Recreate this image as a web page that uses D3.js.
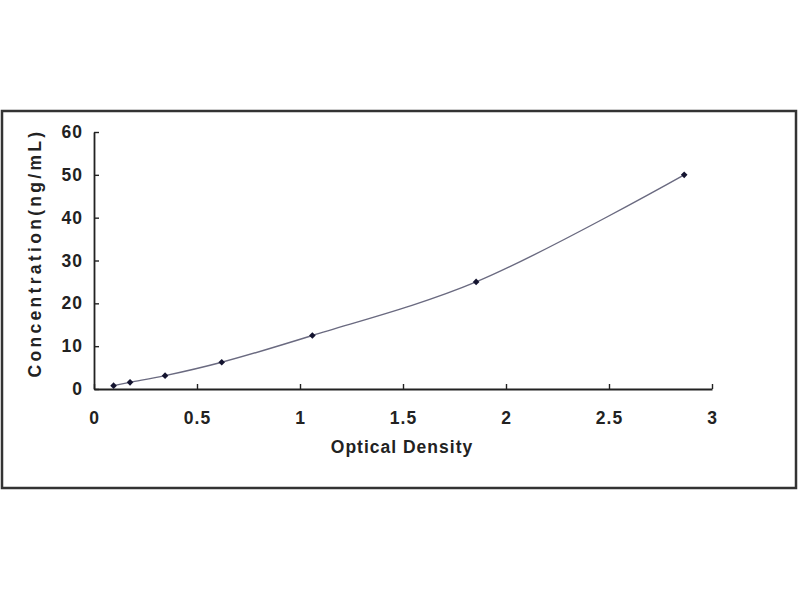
<!DOCTYPE html>
<html>
<head>
<meta charset="utf-8">
<script src="https://cdn.jsdelivr.net/npm/d3@7"></script>
<style>
  body { margin: 0; background: #fff; }
  svg { display: block; }
  text { font-family: "Liberation Sans", Arial, sans-serif; font-weight: bold; fill: #222; }
</style>
</head>
<body>
<svg id="chart" width="800" height="600"></svg>
<script>
// standard curve points
const od = [0.095, 0.175, 0.345, 0.62, 1.06, 1.855, 2.865];
const conc = [0.78, 1.56, 3.12, 6.25, 12.5, 25, 50];
const xTicks = [0, 0.5, 1, 1.5, 2, 2.5, 3];
const yTicks = [0, 10, 20, 30, 40, 50, 60];

const points = od.map((v, i) => ({ x: v, y: conc[i] }));

const svg = d3.select('#chart');

// outer frame
svg.append('rect')
  .attr('x', 2).attr('y', 111)
  .attr('width', 794).attr('height', 377)
  .attr('fill', 'none')
  .attr('stroke', '#333')
  .attr('stroke-width', 2.5);

const x = d3.scaleLinear().domain([0, 3]).range([94, 712]);
const y = d3.scaleLinear().domain([0, 60]).range([389, 132]);

const xAxis = svg.append('g')
  .attr('transform', 'translate(0,389)')
  .call(d3.axisBottom(x).tickValues(xTicks).tickFormat(d3.format('')).tickSize(-5).tickSizeOuter(0).tickPadding(23));

const yAxis = svg.append('g')
  .attr('transform', 'translate(94,0)')
  .call(d3.axisLeft(y).tickValues(yTicks).tickSize(-5).tickSizeOuter(0).tickPadding(11));

[xAxis, yAxis].forEach(g => {
  g.select('.domain').attr('stroke', '#222').attr('stroke-width', 1.8);
  g.selectAll('.tick line').attr('stroke', '#222').attr('stroke-width', 1.4);
  g.selectAll('.tick text')
    .attr('font-size', 17.5)
    .attr('letter-spacing', 1)
    .attr('fill', '#222');
});

// fitted curve through the standards
const line = d3.line()
  .x(d => x(d.x))
  .y(d => y(d.y))
  .curve(d3.curveCatmullRom);

svg.append('path')
  .datum(points)
  .attr('d', line)
  .attr('fill', 'none')
  .attr('stroke', '#6a6a80')
  .attr('stroke-width', 1.4);

svg.selectAll('.pt')
  .data(points)
  .enter()
  .append('path')
  .attr('class', 'pt')
  .attr('transform', d => `translate(${x(d.x)},${y(d.y)}) rotate(45)`)
  .attr('d', d3.symbol(d3.symbolSquare, 22))
  .attr('fill', '#141430');

// axis titles
svg.append('text')
  .attr('x', 402).attr('y', 453)
  .attr('text-anchor', 'middle')
  .attr('font-size', 17.5)
  .attr('letter-spacing', 1)
  .text('Optical Density');

svg.append('text')
  .attr('transform', 'translate(41,253) rotate(-90)')
  .attr('text-anchor', 'middle')
  .attr('font-size', 17.5)
  .attr('letter-spacing', 3.3)
  .text('Concentration(ng/mL)');
</script>
</body>
</html>
